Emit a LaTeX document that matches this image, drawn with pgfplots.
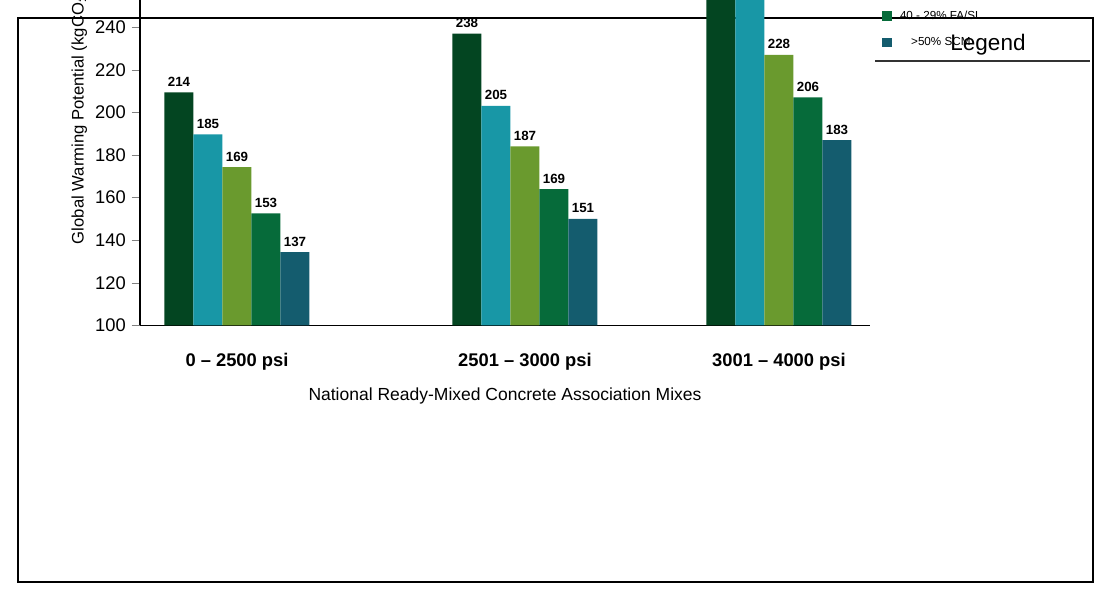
\documentclass[border=0pt]{standalone}
\usepackage{pgfplots}
\pgfplotsset{compat=1.18}
\usepackage{fontspec}
\setmainfont{Liberation Sans}
\definecolor{c1}{HTML}{034521}
\definecolor{c2}{HTML}{1897A6}
\definecolor{c3}{HTML}{6A9A2E}
\definecolor{c4}{HTML}{066B3A}
\definecolor{c5}{HTML}{145C6E}
\begin{document}
\begin{tikzpicture}[x=0.6pt,y=0.6pt]
\useasboundingbox (0,0) rectangle (1111,598);
\draw[line width=0.8pt] (18,16) rectangle (1093,580);
\begin{axis}[at={(140,128)},anchor=south west,
  scale only axis,width=438pt,height=255.6pt,
  xmin=0,xmax=730,ymin=100,ymax=300,
  axis x line=bottom,axis y line=left,
  axis line style={-,line width=0.8pt,black},
  ytick={100,120,...,300},
  xtick={97,385,639},
  xticklabels={0 -- 2500 psi,2501 -- 3000 psi,3001 -- 4000 psi},
  x tick label style={font=\fontsize{11}{13}\selectfont\bfseries,yshift=-8pt},
  y tick label style={font=\fontsize{11}{13}\selectfont},
  /pgf/number format/assume math mode=true,
  major x tick style={draw=none},
  tick align=outside,major tick length=5pt,
  ylabel={Global Warming Potential (kgCO$_2$e)},
  ylabel style={font=\fontsize{10}{12}\selectfont,yshift=-2pt},
  xlabel={National Ready-Mixed Concrete Association Mixes},
  xlabel style={font=\fontsize{10.5}{12}\selectfont,yshift=-4pt},
  ybar,bar width=29,
  point meta=explicit symbolic,
  nodes near coords,
  nodes near coords style={font=\fontsize{8}{9}\selectfont\bfseries},
  every axis plot post/.append style={
    legend image code/.code={\fill[##1] (0,-0.1cm) rectangle (0.2cm,0.1cm);}},
  legend style={at={(1.0096,0.944)},anchor=north west,draw=none,fill=none,
    font=\fontsize{7}{8}\selectfont,row sep=5.5pt},
  clip=false,
]
\addplot[fill=c1,draw=none,bar shift=-58] coordinates {(97,209.4)[214] (385,237)[238] (639,298.6)[293]};
\addplot[fill=c2,draw=none,bar shift=-29] coordinates {(97,189.7)[185] (385,203)[205] (639,255)[252]};
\addplot[fill=c3,draw=none,bar shift=0] coordinates {(97,174.3)[169] (385,184)[187] (639,227)[228]};
\addplot[fill=c4,draw=none,bar shift=29] coordinates {(97,152.6)[153] (385,164)[169] (639,207)[206]};
\addplot[fill=c5,draw=none,bar shift=58] coordinates {(97,134.4)[137] (385,150)[151] (639,187)[183]};
\legend{Standard Mix,20 -- 29\% Fly Ash,30 -- 39\% FA/SL,40 - 29\% FA/SL,>50\% SCM}
\end{axis}
\node[font=\fontsize{13.5}{15}\selectfont] at (988,553) {Legend};
\draw[line width=1.2pt,black!80] (875,537) -- (1090,537);
\end{tikzpicture}
\end{document}
